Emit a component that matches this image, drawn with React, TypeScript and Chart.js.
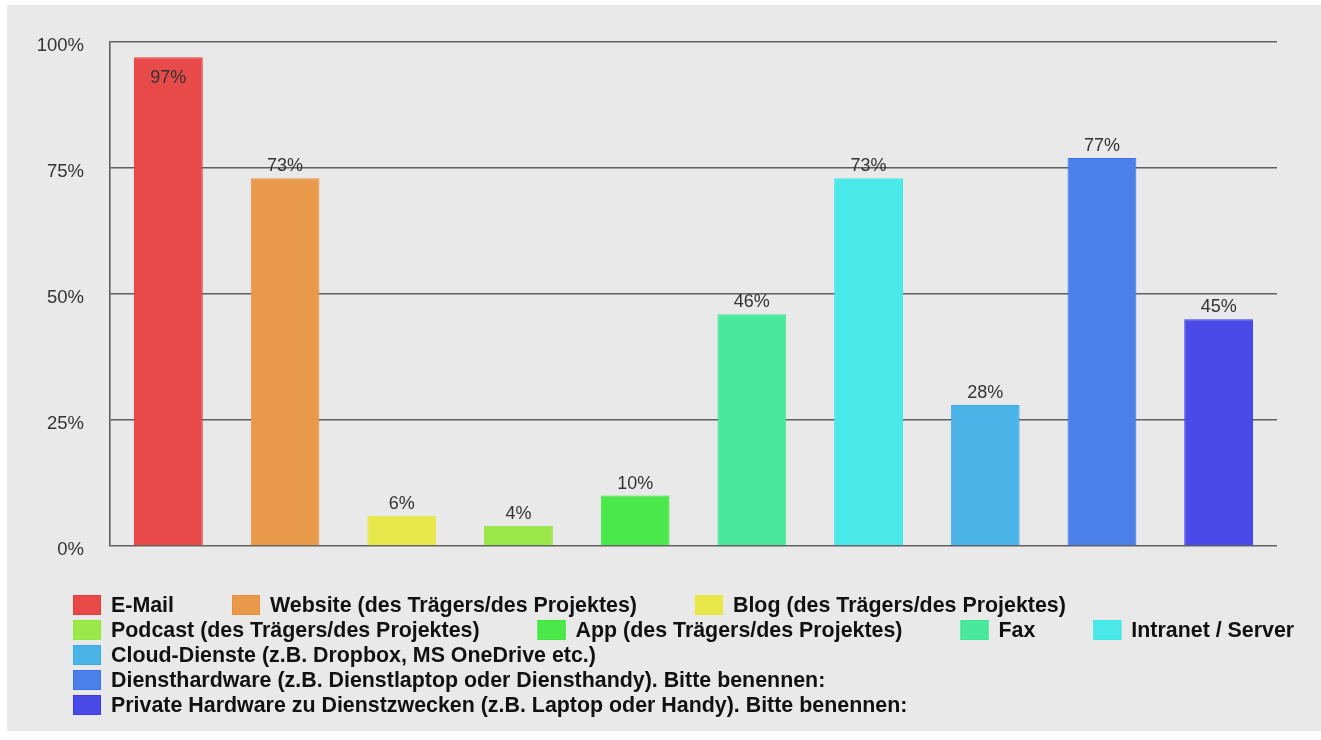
import React, { useEffect, useRef } from "react";
import { Chart, registerables } from "chart.js";

Chart.register(...registerables);

const categories = [
  "E-Mail",
  "Website (des Trägers/des Projektes)",
  "Blog (des Trägers/des Projektes)",
  "Podcast (des Trägers/des Projektes)",
  "App (des Trägers/des Projektes)",
  "Fax",
  "Intranet / Server",
  "Cloud-Dienste (z.B. Dropbox, MS OneDrive etc.)",
  "Diensthardware (z.B. Dienstlaptop oder Diensthandy). Bitte benennen:",
  "Private Hardware zu Dienstzwecken (z.B. Laptop oder Handy). Bitte benennen:",
];
const values = [97, 73, 6, 4, 10, 46, 73, 28, 77, 45];
const yTickValues = [0, 25, 50, 75, 100];
const barColors = [
  "#e84a4a",
  "#e89a4a",
  "#e8e84a",
  "#9ae84a",
  "#4ae84a",
  "#4ae89a",
  "#4ae8e8",
  "#4ab4e8",
  "#4a80e8",
  "#4a4ae8",
];
const borderColors = [
  "#e83a3a",
  "#e8903a",
  "#e8e83a",
  "#90e83a",
  "#3ae83a",
  "#3ae890",
  "#3ae8e8",
  "#3aaaf0",
  "#3a70f0",
  "#3a3af8",
];

const FONT = '"Liberation Sans", Arial, sans-serif';

const valueLabelPlugin = {
  id: "valueLabels",
  afterDatasetsDraw(chart: any) {
    const ctx = chart.ctx;
    const meta = chart.getDatasetMeta(0);
    const ds = chart.data.datasets[0];
    ctx.save();
    ctx.font = `18px ${FONT}`;
    ctx.fillStyle = "#333333";
    ctx.textAlign = "center";
    ctx.textBaseline = "alphabetic";
    meta.data.forEach((bar: any, i: number) => {
      const text = `${ds.data[i]}%`;
      const y = bar.y;
      if (y - 24 < chart.chartArea.top) {
        ctx.fillText(text, bar.x, y + 26);
      } else {
        ctx.fillText(text, bar.x, y - 7);
      }
    });
    ctx.restore();
  },
};

const legendPlugin = {
  id: "flowLegend",
  afterDraw(chart: any) {
    const ctx = chart.ctx;
    const labels: string[] = chart.data.labels;
    const colors: string[] = chart.data.datasets[0].backgroundColor;
    const borders: string[] = chart.data.datasets[0].borderColor;
    const startX = 66;
    const maxRight = 1303;
    const firstRowY = 600;
    const rowH = 25;
    const boxW = 28;
    const boxH = 20;
    const textGap = 10;
    const itemGap = 58;
    ctx.save();
    ctx.font = `bold 21.4px ${FONT}`;
    ctx.textBaseline = "middle";
    ctx.textAlign = "left";
    let x = startX;
    let y = firstRowY;
    labels.forEach((label, i) => {
      const w = boxW + textGap + ctx.measureText(label).width;
      if (x !== startX && x + w > maxRight) {
        x = startX;
        y += rowH;
      }
      ctx.fillStyle = colors[i];
      ctx.fillRect(x, y - boxH / 2, boxW, boxH);
      ctx.strokeStyle = borders[i];
      ctx.lineWidth = 1;
      ctx.strokeRect(x + 0.5, y - boxH / 2 + 0.5, boxW - 1, boxH - 1);
      ctx.fillStyle = "#111111";
      ctx.fillText(label, x + boxW + textGap, y + 1);
      x += w + itemGap;
    });
    ctx.restore();
  },
};

export default function App() {
  const canvasRef = useRef<HTMLCanvasElement | null>(null);

  useEffect(() => {
    if (!canvasRef.current) return;
    const chart = new Chart(canvasRef.current, {
      type: "bar",
      data: {
        labels: categories,
        datasets: [
          {
            data: values,
            backgroundColor: barColors,
            borderColor: borderColors,
            borderWidth: 1,
            categoryPercentage: 1,
            barPercentage: 0.59,
          },
        ],
      },
      options: {
        responsive: false,
        animation: false,
        devicePixelRatio: 1,
        layout: { padding: { left: 0, top: 34, right: 44, bottom: 185 } },
        plugins: {
          legend: { display: false },
          tooltip: { enabled: false },
          title: { display: false },
        },
        scales: {
          x: { display: false },
          y: {
            min: 0,
            max: 100,
            afterFit(scale: any) {
              scale.width = 103;
            },
            afterBuildTicks(scale: any) {
              scale.ticks = yTickValues.map((v) => ({ value: v }));
            },
            ticks: {
              padding: 26,
              labelOffset: 4,
              color: "#333333",
              font: { family: FONT, size: 18.5 },
              callback: (v: any) => `${v}%`,
            },
            grid: {
              color: "rgba(80,80,80,0.9)",
              lineWidth: 1.6,
              drawTicks: false,
            },
            border: {
              display: true,
              color: "rgba(80,80,80,0.9)",
              width: 1.6,
            },
          },
        },
      },
      plugins: [valueLabelPlugin, legendPlugin],
    });
    return () => chart.destroy();
  }, []);

  return (
    <div
      style={{
        position: "fixed",
        left: 0,
        top: 0,
        width: 1321,
        height: 740,
        background: "#ffffff",
        overflow: "hidden",
      }}
    >
      <div
        style={{
          position: "absolute",
          left: 7,
          top: 5,
          width: 1314,
          height: 726,
          background: "#e9e9e9",
        }}
      >
        <canvas ref={canvasRef} width={1314} height={726} style={{ display: "block" }} />
      </div>
    </div>
  );
}
